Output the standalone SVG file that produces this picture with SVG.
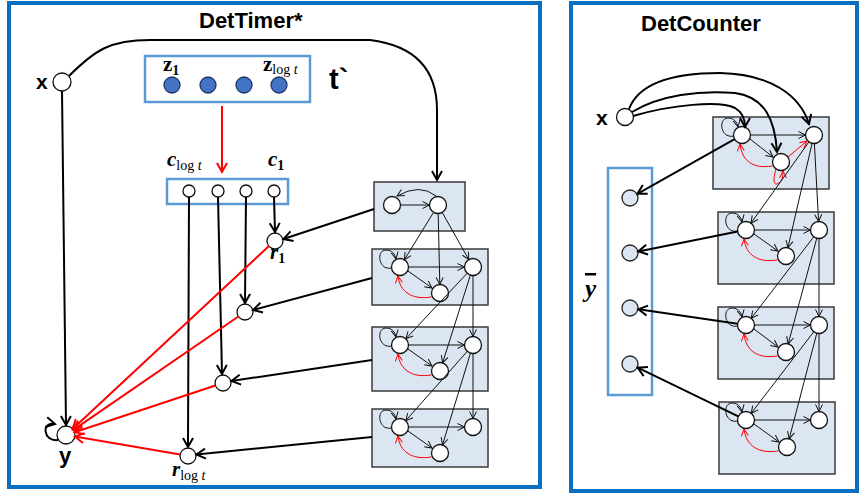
<svg xmlns="http://www.w3.org/2000/svg" width="860" height="495" viewBox="0 0 860 495">
<style>
.panel{fill:#fff;stroke:#0B6FC1;stroke-width:4}
.reg{fill:#fff;stroke:#5B9BD5;stroke-width:2.5}
.cell{fill:#DCE6F2;stroke:#3a3a3a;stroke-width:1.5}
.n{fill:#fff;stroke:#111;stroke-width:1.3}
.nb{fill:#4472C4;stroke:#1F3864;stroke-width:1.3}
.ny{fill:#DCE6F2;stroke:#222;stroke-width:1.3}
.t{fill:none;stroke:#111;stroke-width:1;marker-end:url(#ah)}
.tr{fill:none;stroke:#f00;stroke-width:1;marker-end:url(#ahr)}
.k{fill:none;stroke:#000;stroke-width:2;marker-end:url(#ahT)}
.kr{fill:none;stroke:#f00;stroke-width:2;marker-end:url(#ahR)}
.title{font-family:"Liberation Sans",Arial,sans-serif;font-weight:bold;font-size:22px;fill:#000}
.lab{font-family:"Liberation Sans",Arial,sans-serif;font-weight:bold;font-size:21px;fill:#000}
.m{font-family:"Liberation Serif","Times New Roman",serif;font-weight:bold;font-style:italic;font-size:21px;fill:#000}
.mu{font-family:"Liberation Serif","Times New Roman",serif;font-weight:bold;font-size:21px;fill:#000}
.sub{font-family:"Liberation Serif","Times New Roman",serif;font-size:14px;font-weight:normal;font-style:normal}
.sb{font-family:"Liberation Serif","Times New Roman",serif;font-size:14px;font-weight:bold;font-style:normal}
</style>
<defs>
<marker id="ah" markerUnits="userSpaceOnUse" markerWidth="10" markerHeight="10" refX="7" refY="3.5" orient="auto" overflow="visible"><path d="M0,0 L7,3.5 L0,7" fill="none" stroke="#111" stroke-width="1"/></marker>
<marker id="ahr" markerUnits="userSpaceOnUse" markerWidth="10" markerHeight="10" refX="7" refY="3.5" orient="auto" overflow="visible"><path d="M0,0 L7,3.5 L0,7" fill="none" stroke="#f00" stroke-width="1"/></marker>
<marker id="ahT" markerUnits="userSpaceOnUse" markerWidth="12" markerHeight="12" refX="9" refY="5" orient="auto" overflow="visible"><path d="M0,0 L9,5 L0,10" fill="none" stroke="#000" stroke-width="2"/></marker>
<marker id="ahR" markerUnits="userSpaceOnUse" markerWidth="12" markerHeight="12" refX="9" refY="5" orient="auto" overflow="visible"><path d="M0,0 L9,5 L0,10" fill="none" stroke="#f00" stroke-width="2"/></marker>
</defs>

<rect class="panel" x="9" y="3" width="531" height="484"/>
<rect class="panel" x="571" y="3" width="286" height="488"/>
<text class="title" x="199" y="28">DetTimer*</text>
<text class="title" x="641" y="31">DetCounter</text>

<!-- LEFT PANEL -->
<g id="x-left">
<circle class="n" cx="62" cy="82" r="9"/>
<text class="lab" x="36" y="89">x</text>
</g>
<g id="y-out">
<circle class="n" cx="66" cy="435" r="9"/>
<text class="lab" x="59" y="463" style="font-size:22px">y</text>
</g>
<g id="z-register">
<rect class="reg" x="145" y="56" width="165" height="46"/>
<circle class="nb" cx="172" cy="85" r="8"/>
<circle class="nb" cx="208" cy="85" r="8"/>
<circle class="nb" cx="244" cy="85" r="8"/>
<circle class="nb" cx="279" cy="85" r="8"/>
<text class="mu" x="163" y="71">z<tspan class="sb" dy="4">1</tspan></text>
<text class="mu" x="263" y="71">z<tspan class="sub" dy="3">log </tspan><tspan class="sub" style="font-style:italic">t</tspan></text>
<text class="lab" x="329" y="89" style="font-size:29px">t`</text>
</g>
<g id="c-register">
<rect class="reg" x="167" y="179" width="121" height="25"/>
<circle class="n" cx="189" cy="191" r="6"/>
<circle class="n" cx="218" cy="191" r="6"/>
<circle class="n" cx="246" cy="191" r="6"/>
<circle class="n" cx="274" cy="191" r="6"/>
<text class="m" x="167" y="166">c<tspan class="sub" dy="4">log </tspan><tspan class="sub" style="font-style:italic">t</tspan></text>
<text class="m" x="268" y="166">c<tspan class="sb" dy="4">1</tspan></text>
</g>
<g id="r1"><circle class="n" cx="275" cy="241" r="8"/><text class="m" x="270" y="259">r<tspan class="sb" dy="4">1</tspan></text></g>
<g id="r2"><circle class="n" cx="245" cy="312" r="8"/></g>
<g id="r3"><circle class="n" cx="223" cy="383" r="8"/></g>
<g id="rlog"><circle class="n" cx="188" cy="456" r="8"/><text class="m" x="172" y="476">r<tspan class="sub" dy="4">log </tspan><tspan class="sub" style="font-style:italic">t</tspan></text></g>

<g id="cellA1">
<rect class="cell" x="374" y="182" width="91" height="49"/>
<circle class="n" cx="392" cy="205" r="8.5"/>
<circle class="n" cx="438" cy="205" r="8.5"/>
<path class="t" d="M400.5,205 L429.5,205"/>
<path class="t" d="M436,196 Q420,183 397,196"/>
</g>
<g id="cellA2" transform="translate(372,249)">
<rect class="cell" x="0" y="0" width="116" height="56"/>
<circle class="n" cx="28" cy="18" r="8.5"/><circle class="n" cx="101" cy="18" r="8.5"/><circle class="n" cx="68" cy="44" r="8.5"/>
<path class="t" d="M20,19 C6,22 4,1 14,1 C20,1 23,5 24,10"/>
<path class="t" d="M36.5,18 L92.5,18"/><path class="t" d="M36,22 L60,39"/>
<path class="tr" d="M59,48 C40,51 28,43 26,27"/>
</g>
<g id="cellA3" transform="translate(372,327)">
<rect class="cell" x="0" y="0" width="116" height="64"/>
<circle class="n" cx="28" cy="18" r="8.5"/><circle class="n" cx="101" cy="18" r="8.5"/><circle class="n" cx="68" cy="44" r="8.5"/>
<path class="t" d="M20,19 C6,22 4,1 14,1 C20,1 23,5 24,10"/>
<path class="t" d="M36.5,18 L92.5,18"/><path class="t" d="M36,22 L60,39"/>
<path class="tr" d="M59,48 C40,51 28,43 26,27"/>
</g>
<g id="cellA4" transform="translate(372,409)">
<rect class="cell" x="0" y="0" width="116" height="58"/>
<circle class="n" cx="28" cy="18" r="8.5"/><circle class="n" cx="101" cy="18" r="8.5"/><circle class="n" cx="68" cy="44" r="8.5"/>
<path class="t" d="M20,19 C6,22 4,1 14,1 C20,1 23,5 24,10"/>
<path class="t" d="M36.5,18 L92.5,18"/><path class="t" d="M36,22 L60,39"/>
<path class="tr" d="M59,48 C40,51 28,43 26,27"/>
</g>

<!-- RIGHT PANEL -->
<g id="x-right">
<circle class="n" cx="625" cy="117" r="8.5"/>
<text class="lab" x="596" y="125">x</text>
</g>
<g id="ybar-register">
<rect class="reg" x="608" y="168" width="44" height="227"/>
<circle class="ny" cx="630" cy="198" r="8"/>
<circle class="ny" cx="630" cy="253" r="8"/>
<circle class="ny" cx="630" cy="308" r="8"/>
<circle class="ny" cx="630" cy="364" r="8"/>
<text class="m" x="585" y="297" style="font-size:25px;text-decoration:overline">y</text>
</g>
<g id="cellB1" transform="translate(713,117)">
<rect class="cell" x="0" y="0" width="116" height="72"/>
<circle class="n" cx="29" cy="18" r="8.5"/><circle class="n" cx="101" cy="18" r="8.5"/><circle class="n" cx="68" cy="45" r="8.5"/>
<path class="t" d="M21,19 C7,22 5,1 15,1 C21,1 24,5 25,10"/>
<path class="t" d="M37.5,18 L92.5,18"/><path class="t" d="M37,22 L60,40"/>
<path class="tr" d="M59,49 C40,52 29,44 27,27"/>
<path class="tr" d="M75,40 L94,24"/>
<path class="tr" d="M63,52 C60,62 60,70 66,66 C69,64 70,60 70,54"/>
</g>
<g id="cellB2" transform="translate(718,212)">
<rect class="cell" x="0" y="0" width="116" height="72"/>
<circle class="n" cx="28" cy="18" r="8.5"/><circle class="n" cx="101" cy="18" r="8.5"/><circle class="n" cx="68" cy="44" r="8.5"/>
<path class="t" d="M20,19 C6,22 4,1 14,1 C20,1 23,5 24,10"/>
<path class="t" d="M36.5,18 L92.5,18"/><path class="t" d="M36,22 L60,39"/>
<path class="tr" d="M59,48 C40,51 28,43 26,27"/>
</g>
<g id="cellB3" transform="translate(718,307)">
<rect class="cell" x="0" y="0" width="116" height="72"/>
<circle class="n" cx="28" cy="18" r="8.5"/><circle class="n" cx="101" cy="18" r="8.5"/><circle class="n" cx="68" cy="45" r="8.5"/>
<path class="t" d="M20,19 C6,22 4,1 14,1 C20,1 23,5 24,10"/>
<path class="t" d="M36.5,18 L92.5,18"/><path class="t" d="M36,22 L60,40"/>
<path class="tr" d="M59,49 C40,52 28,44 26,27"/>
</g>
<g id="cellB4" transform="translate(719,402)">
<rect class="cell" x="0" y="0" width="116" height="72"/>
<circle class="n" cx="27" cy="18" r="8.5"/><circle class="n" cx="100" cy="18" r="8.5"/><circle class="n" cx="68" cy="45" r="8.5"/>
<path class="t" d="M19,19 C5,22 3,1 13,1 C19,1 22,5 23,10"/>
<path class="t" d="M35.5,18 L91.5,18"/><path class="t" d="M35,22 L60,40"/>
<path class="tr" d="M59,49 C40,52 27,44 25,27"/>
</g>

<g id="connectors">
<path class="k" d="M62,91 L66,425"/>
<path class="k" d="M58,440 C43,442 41,421 55,424"/>
<path class="k" d="M69,76 C95,50 110,40 150,40 L370,40 C410,45 437,65 437,110 L437,180"/>
<path class="kr" d="M222,106 L222,172"/>
<path class="k" d="M274,197 L275,232"/>
<path class="k" d="M246,197 L245,303"/>
<path class="k" d="M218,197 L222,374"/>
<path class="k" d="M189,197 L188,447"/>
<path class="kr" d="M269,246 L72.6,428.9"/>
<path class="kr" d="M238.4,316.5 L73.4,429.9"/>
<path class="kr" d="M215.4,385.5 L74.5,432.2"/>
<path class="kr" d="M180.1,454.6 L74.9,436.5"/>
<path class="k" d="M374,209 L283.5,239"/>
<path class="k" d="M372,278 L253,310"/>
<path class="k" d="M372,360 L231.5,381"/>
<path class="k" d="M372,437 L196.5,454.5"/>
<path class="t" d="M433.6,212.3 L404.4,259.7"/>
<path class="t" d="M438.2,213.5 L439.8,284.5"/>
<path class="t" d="M442.2,212.4 L468.8,259.6"/>
<path class="t" d="M467.2,273.2 L405.8,338.8"/>
<path class="t" d="M470.4,275.1 L442.6,362.9"/>
<path class="t" d="M473,275.5 L473,336.5"/>
<path class="t" d="M467.3,351.3 L405.7,420.7"/>
<path class="t" d="M470.5,353.1 L442.5,444.9"/>
<path class="t" d="M473,353.5 L473,418.5"/>
<path class="k" d="M633,116 C670,105 720,100 735,108 C742,112 745,118 745,127"/>
<path class="k" d="M632,112 C660,95 700,90 735,93 C765,97 775,120 777,152"/>
<path class="k" d="M629,109 C640,80 680,73 720,73 C770,74 800,95 809,124"/>
<path class="t" d="M809,141.9 L751,223.1"/>
<path class="t" d="M812.1,143.3 L787.9,247.7"/>
<path class="t" d="M814.4,143.5 L818.6,221.5"/>
<path class="t" d="M813.8,236.7 L751.2,318.3"/>
<path class="t" d="M816.8,238.2 L788.2,343.8"/>
<path class="t" d="M819,238.5 L819,316.5"/>
<path class="t" d="M813.8,331.7 L751.2,413.3"/>
<path class="t" d="M816.8,333.2 L789.2,438.8"/>
<path class="t" d="M819,333.5 L819,411.5"/>
<path class="k" d="M734.6,139.2 L637.4,193.8"/>
<path class="k" d="M737.7,231.6 L638.3,251.4"/>
<path class="k" d="M737.6,323.8 L638.4,309.2"/>
<path class="k" d="M738.3,416.3 L637.7,367.7"/>
</g>
</svg>
